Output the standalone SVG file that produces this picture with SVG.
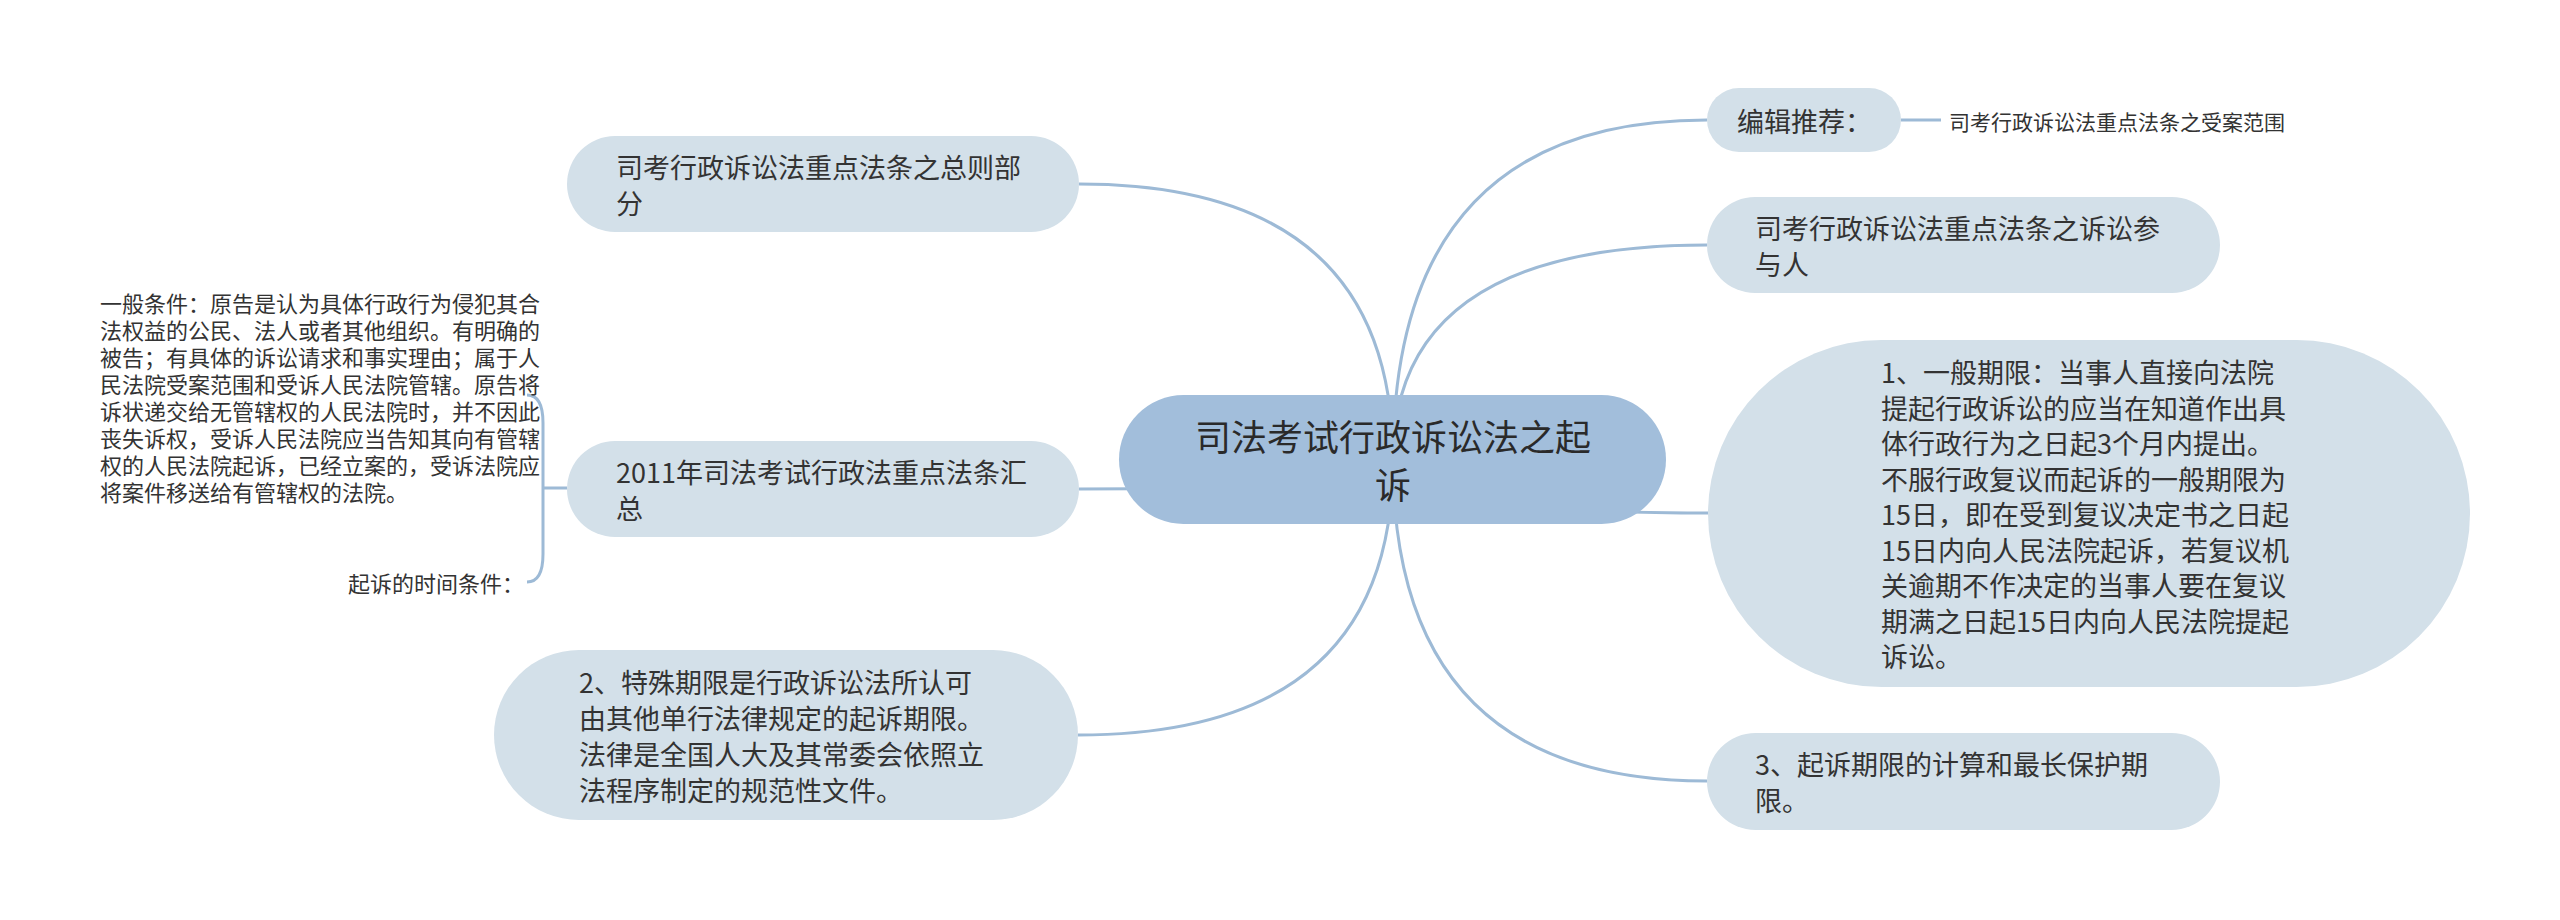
<svg xmlns="http://www.w3.org/2000/svg" width="2560" height="920" viewBox="0 0 2560 920">
<style>
text{font-family:"Noto Sans CJK SC","Noto Sans",sans-serif;fill:#333;dominant-baseline:central}
.root rect{fill:#a2bedb}
.root text{font-size:36px;fill:#2a2a2a;text-anchor:middle}
.n rect{fill:#d3e0e9}
.n text{font-size:27px}
.leaf text{font-size:22px}
.leaf2 text{font-size:21px}
.conn path{fill:none;stroke:#9dbad6;stroke-width:3}
</style>
<rect width="2560" height="920" fill="#ffffff"/>
<g class="conn" id="connectors">
<path d="M1393,460 Q1393,184 1079,184"/>
<path d="M1393,460 Q1393,489 1079,489"/>
<path d="M1393,460 Q1393,735 1078,735"/>
<path d="M1393,460 Q1393,120 1707,120"/>
<path d="M1393,460 Q1393,245 1707,245"/>
<path d="M1393,460 Q1393,513 1708,513"/>
<path d="M1393,460 Q1393,781 1707,781"/>
<path d="M1901,120 L1941,120"/>
<path d="M527,395 Q543,395 543,423 L543,554 Q543,582 527,582 M543,488 L567,488"/>
</g>
<g class="root" id="root">
<rect x="1119" y="395" width="547" height="129" rx="64.5"/>
<text x="1393" y="435">司法考试行政诉讼法之起</text>
<text x="1393" y="483">诉</text>
</g>
<g class="n" id="left1">
<rect x="567" y="136" width="512" height="96" rx="48"/>
<text x="616" y="166">司考行政诉讼法重点法条之总则部</text>
<text x="616" y="202">分</text>
</g>
<g class="n" id="left2">
<rect x="567" y="441" width="512" height="96" rx="48"/>
<text x="616" y="471">2011年司法考试行政法重点法条汇</text>
<text x="616" y="507">总</text>
</g>
<g class="n" id="left3">
<rect x="494" y="650" width="584" height="170" rx="85"/>
<text x="579" y="681">2、特殊期限是行政诉讼法所认可</text>
<text x="579" y="717">由其他单行法律规定的起诉期限。</text>
<text x="579" y="753">法律是全国人大及其常委会依照立</text>
<text x="579" y="789">法程序制定的规范性文件。</text>
</g>
<g class="leaf" id="leaf-general">
<text x="100" y="302">一般条件：原告是认为具体行政行为侵犯其合</text>
<text x="100" y="329">法权益的公民、法人或者其他组织。有明确的</text>
<text x="100" y="356">被告；有具体的诉讼请求和事实理由；属于人</text>
<text x="100" y="383">民法院受案范围和受诉人民法院管辖。原告将</text>
<text x="100" y="410">诉状递交给无管辖权的人民法院时，并不因此</text>
<text x="100" y="437">丧失诉权，受诉人民法院应当告知其向有管辖</text>
<text x="100" y="464">权的人民法院起诉，已经立案的，受诉法院应</text>
<text x="100" y="491">将案件移送给有管辖权的法院。</text>
</g>
<g class="leaf" id="leaf-time">
<text x="524" y="582" text-anchor="end">起诉的时间条件：</text>
</g>
<g class="n" id="right1">
<rect x="1707" y="88" width="194" height="64" rx="32"/>
<text x="1737" y="120">编辑推荐：</text>
</g>
<g class="leaf2" id="leaf-rec">
<text x="1949" y="121">司考行政诉讼法重点法条之受案范围</text>
</g>
<g class="n" id="right2">
<rect x="1707" y="197" width="513" height="96" rx="48"/>
<text x="1755" y="227">司考行政诉讼法重点法条之诉讼参</text>
<text x="1755" y="263">与人</text>
</g>
<g class="n" id="right3">
<rect x="1708" y="340" width="762" height="347" rx="173.5"/>
<text x="1881" y="371.5">1、一般期限：当事人直接向法院</text>
<text x="1881" y="407">提起行政诉讼的应当在知道作出具</text>
<text x="1881" y="442.5">体行政行为之日起3个月内提出。</text>
<text x="1881" y="478">不服行政复议而起诉的一般期限为</text>
<text x="1881" y="513.5">15日，即在受到复议决定书之日起</text>
<text x="1881" y="549">15日内向人民法院起诉，若复议机</text>
<text x="1881" y="584.5">关逾期不作决定的当事人要在复议</text>
<text x="1881" y="620">期满之日起15日内向人民法院提起</text>
<text x="1881" y="655.5">诉讼。</text>
</g>
<g class="n" id="right4">
<rect x="1707" y="733" width="513" height="97" rx="48.5"/>
<text x="1755" y="763.5">3、起诉期限的计算和最长保护期</text>
<text x="1755" y="799.5">限。</text>
</g>
</svg>
